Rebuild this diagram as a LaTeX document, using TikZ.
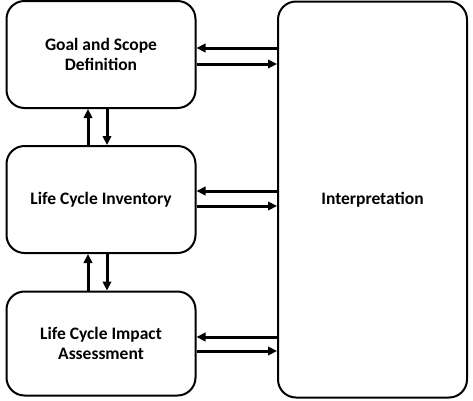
\documentclass[tikz,border=0pt]{standalone}
\usepackage{fontspec}
\setmainfont{Carlito}
\usetikzlibrary{arrows.meta}
\begin{document}
\begin{tikzpicture}[x=1pt,y=-1pt,
  box/.style={draw=black,line width=2pt,rounded corners=18pt,fill=white,align=center,font=\bfseries\fontsize{17.5}{20}\selectfont,inner sep=0pt},
  arr/.style={line width=3pt,-{Triangle[length=9pt,width=8.5pt]}}]
\useasboundingbox (0,0) rectangle (473,400);
\node[box,minimum width=189pt,minimum height=107pt] (goal) at (101,54.5) {Goal and Scope\\Definition};
\node[box,minimum width=189pt,minimum height=107pt] (lci) at (101,199.5) {Life Cycle Inventory};
\node[box,minimum width=189pt,minimum height=104pt] (lcia) at (101,343.5) {Life Cycle Impact\\Assessment};
\node[box,minimum width=189pt,minimum height=396pt] (interp) at (372.5,199.5) {Interpretation};
% goal <-> interp
\draw[arr] (interp.west |- 0,48) -- (goal.east |- 0,48);
\draw[arr] (goal.east |- 0,64) -- (interp.west |- 0,64);
\draw[arr] (interp.west |- 0,191) -- (lci.east |- 0,191);
\draw[arr] (lci.east |- 0,206) -- (interp.west |- 0,206);
\draw[arr] (interp.west |- 0,337) -- (lcia.east |- 0,337);
\draw[arr] (lcia.east |- 0,351) -- (interp.west |- 0,351);
% vertical
\draw[arr] (lci.north -| 88,0) -- (goal.south -| 88,0);
\draw[arr] (goal.south -| 107,0) -- (lci.north -| 107,0);
\draw[arr] (lcia.north -| 88,0) -- (lci.south -| 88,0);
\draw[arr] (lci.south -| 107,0) -- (lcia.north -| 107,0);
\end{tikzpicture}
\end{document}
